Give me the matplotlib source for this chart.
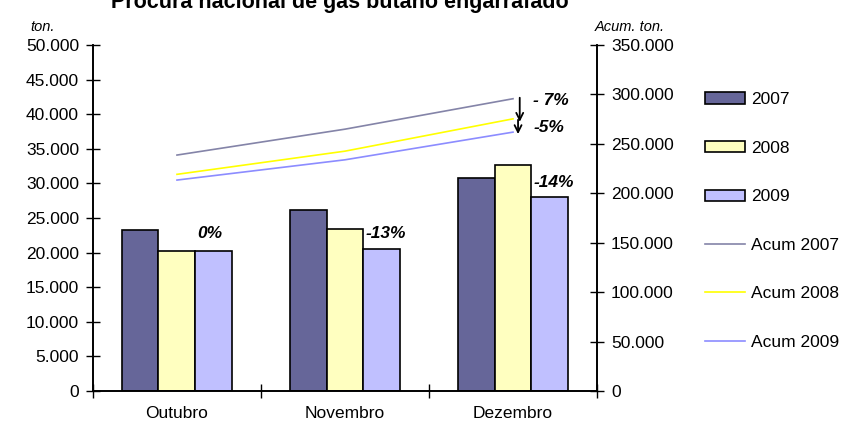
import numpy as np
import matplotlib.pyplot as plt
from matplotlib.ticker import FuncFormatter, FixedLocator

plt.rcParams['font.family'] = ['Liberation Sans', 'DejaVu Sans']
plt.rcParams['font.size'] = 12.5

meses = ['Outubro', 'Novembro', 'Dezembro']
anos = ['2007', '2008', '2009']
# procura mensal (ton.)
v2007 = [23300, 26200, 30800]
v2008 = [20200, 23450, 32700]
v2009 = [20200, 20500, 28000]
# acumulado no ano (ton.)
acum2007 = [238700, 264900, 295700]
acum2008 = [219200, 242650, 275350]
acum2009 = [213400, 233900, 261900]
# variacao 2009 vs 2008
var_mes = ['0%', '-13%', '-14%']
var_pos = [22700, 22700, 30200]

cores_barras = ['#666699', '#FFFFC0', '#C0C0FF']
cores_linhas = ['#8484A8', '#FFFF00', '#8C8CFF']

def milhares(v, pos):
    return '{:,.0f}'.format(v).replace(',', '.')

fig = plt.figure(figsize=(8.49, 4.25), dpi=100)
ax = fig.add_axes([0.1095, 0.08, 0.5937, 0.814])
ax2 = ax.twinx()

x = np.arange(len(meses))
w = 0.22
barras = []
for i, (vals, cor, ano) in enumerate(zip([v2007, v2008, v2009], cores_barras, anos)):
    b = ax.bar(x + (i - 1) * w, vals, w, color=cor, edgecolor='black', linewidth=1.2, label=ano)
    barras.append(b)

linhas = []
for vals, cor, nome in zip([acum2007, acum2008, acum2009], cores_linhas,
                           ['Acum 2007', 'Acum 2008', 'Acum 2009']):
    l, = ax2.plot(x, vals, color=cor, linewidth=1.2, label=nome)
    linhas.append(l)

ax.set_xlim(-0.5, 2.5)
ax.set_ylim(0, 50000)
ax2.set_ylim(0, 350000)
ax.set_yticks(np.arange(0, 50001, 5000))
ax2.set_yticks(np.arange(0, 350001, 50000))
ax.yaxis.set_major_formatter(FuncFormatter(milhares))
ax2.yaxis.set_major_formatter(FuncFormatter(milhares))

ax.set_xticks(x)
ax.set_xticklabels(meses)
ax.xaxis.set_minor_locator(FixedLocator([-0.5, 0.5, 1.5, 2.5]))
ax.tick_params(axis='x', which='major', length=0, pad=11)
ax.tick_params(axis='x', which='minor', direction='inout', length=10, width=1)
ax.tick_params(axis='y', direction='inout', length=10, width=1, pad=5)
ax2.tick_params(axis='y', direction='inout', length=10, width=1, pad=5)

for a in (ax, ax2):
    a.spines['top'].set_visible(False)
    for s in ('left', 'right', 'bottom'):
        a.spines[s].set_linewidth(1.2)

# variacoes mensais junto as barras de 2008
for i, (txt, yv) in enumerate(zip(var_mes, var_pos)):
    ax.text(x[i] + 0.5 * w + 0.01, yv, txt, fontweight='bold', fontstyle='italic',
            va='center', ha='left')

# variacoes do acumulado em dezembro
xs = x[2] + 0.04
ax2.annotate('', xy=(xs, acum2008[2] - 3000), xytext=(xs, acum2007[2] + 1000),
             arrowprops=dict(arrowstyle='->', color='black', lw=1.3, shrinkA=0, shrinkB=0))
ax2.annotate('', xy=(xs - 0.01, acum2009[2] - 2000), xytext=(xs - 0.01, acum2008[2] - 1000),
             arrowprops=dict(arrowstyle='->', color='black', lw=1.3, shrinkA=0, shrinkB=0))
ax2.text(x[2] + 0.12, 293500, '- 7%', fontweight='bold', fontstyle='italic', va='center')
ax2.text(x[2] + 0.12, 267000, '-5%', fontweight='bold', fontstyle='italic', va='center')

fig.text(0.036, 0.928, 'ton.', fontstyle='italic', fontsize=10.5)
fig.text(0.70, 0.928, 'Acum. ton.', fontstyle='italic', fontsize=10.5)
fig.text(0.40, 0.97, 'Procura nacional de gás butano engarrafado', fontweight='bold',
         fontsize=15.5, ha='center', va='bottom')

fig.legend(barras + linhas, [b.get_label() for b in barras] + [l.get_label() for l in linhas],
           loc='upper left', bbox_to_anchor=(0.812, 0.82), frameon=False,
           labelspacing=1.93, handlelength=2.3, handleheight=0.6, handletextpad=0.35)

plt.savefig('out.png', dpi=100)
